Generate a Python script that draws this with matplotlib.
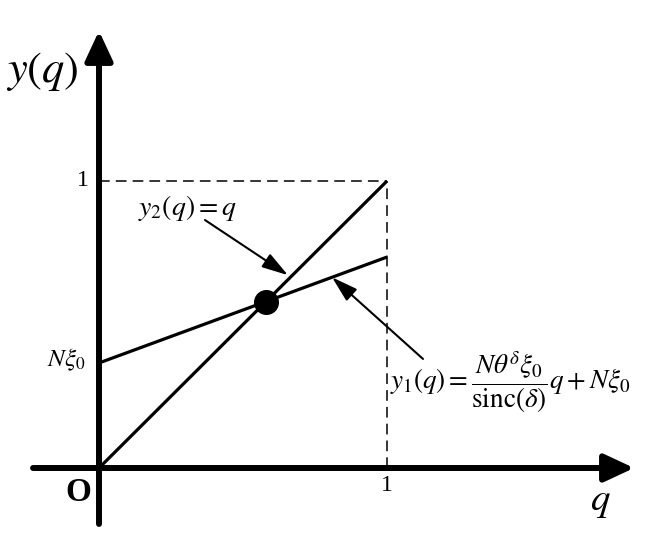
import matplotlib.pyplot as plt
import numpy as np

plt.rcParams['mathtext.fontset'] = 'stix'
plt.rcParams['font.family'] = ['Liberation Serif', 'DejaVu Serif']

# values (unit square: q = 1, y = 1)
q_ends = np.array([0.0, 1.0])
y2_vals = np.array([0.0, 1.0])          # y2(q) = q
y1_vals = np.array([0.366, 0.735])      # y1(q) = a*q + N*xi0
n_xi0 = y1_vals[0]
slope = (y1_vals[1] - y1_vals[0]) / (q_ends[1] - q_ends[0])
q_cross = n_xi0 / (1 - slope)

fig = plt.figure(figsize=(6.65, 5.53), dpi=100)
ax = fig.add_axes([0, 0, 1, 1])
# pixel frame: origin at (99, 468), 288 px per unit in q, 287 px in y
ax.set_xlim(-99 / 288, (665 - 99) / 288)
ax.set_ylim((468 - 553) / 287, 468 / 287)
ax.axis('off')

# axes with arrow heads
axis_kw = dict(arrowstyle='-|>,head_length=0.9,head_width=0.42',
               lw=4.3, color='black', mutation_scale=20,
               shrinkA=0, shrinkB=0, capstyle='round')
ax.annotate('', xy=(1.858, 0), xytext=(-0.229, 0), arrowprops=axis_kw)
ax.annotate('', xy=(0, 1.523), xytext=(0, -0.195), arrowprops=axis_kw)

# dashed guides
dash = (0, (7, 4))
ax.plot([0, 1], [1, 1], color='black', lw=1.1, ls=dash)
ax.plot([1, 1], [0, 1], color='black', lw=1.1, ls=dash)

# lines
ax.plot(q_ends, y2_vals, color='black', lw=2.3, solid_capstyle='butt')
ax.plot(q_ends, y1_vals, color='black', lw=2.3, solid_capstyle='butt')
ax.plot([q_cross], [q_cross], 'o', color='black', ms=17)

# pointer arrows
ptr = dict(arrowstyle='-|>,head_length=1.0,head_width=0.3', lw=1.5,
           color='black', mutation_scale=16, shrinkA=0, shrinkB=0)
ax.annotate('', xy=(0.656, 0.672), xytext=(0.368, 0.864), arrowprops=ptr)
ax.annotate('', xy=(0.809, n_xi0 + slope * 0.809), xytext=(1.125, 0.380),
            arrowprops=ptr)

# texts
ax.text(-0.322, 1.383, r'$y\left(q\right)$', fontsize=32, ha='left', va='center')
ax.text(-0.035, 1.0, '1', fontsize=17, ha='right', va='center')
ax.text(1.0, -0.062, '1', fontsize=17, ha='center', va='center')
ax.text(-0.045, n_xi0 + 0.01, r'$N\xi_0$', fontsize=18, ha='right', va='center')
ax.text(-0.072, -0.087, 'O', fontsize=24, fontweight='bold', ha='center', va='center')
ax.text(1.74, -0.118, r'$q$', fontsize=28, ha='center', va='center')
ax.text(0.135, 0.905, r'$y_2\left(q\right) = q$', fontsize=20, ha='left', va='center')
ax.text(1.01, 0.30,
        r'$y_1\left(q\right) = \dfrac{N\theta^{\delta}\xi_0}{\mathrm{sinc}\left(\delta\right)}q + N\xi_0$',
        fontsize=19.5, ha='left', va='center')

fig.savefig('out.png', dpi=100)
